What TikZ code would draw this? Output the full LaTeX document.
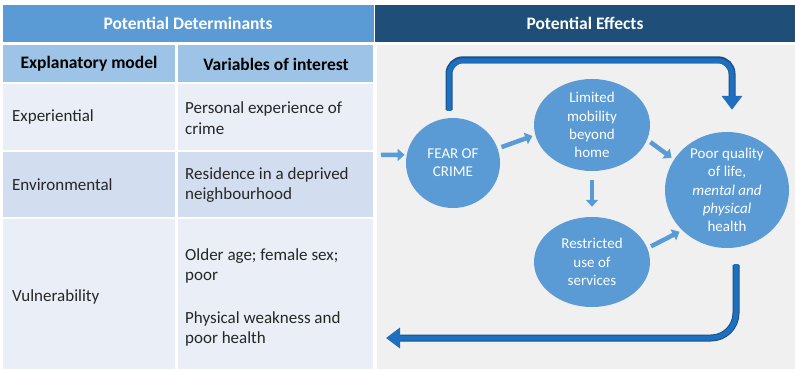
\documentclass[tikz,border=0pt]{standalone}
\usepackage{fontspec}
\setmainfont{Carlito}
\usepackage{tikz}
\usetikzlibrary{arrows.meta,shapes.geometric}
\definecolor{headblue}{HTML}{5B9BD5}
\definecolor{headdark}{HTML}{1F4E79}
\definecolor{subblue}{HTML}{9DC3E6}
\definecolor{rowlight}{HTML}{EAEFF7}
\definecolor{rowmid}{HTML}{D2DEEF}
\definecolor{panelgrey}{HTML}{F0F0F0}
\definecolor{bubbleblue}{HTML}{5B9BD5}
\definecolor{feedbackblue}{HTML}{1F6FBF}
\definecolor{feedbackedge}{HTML}{1A4F8A}
\newcommand{\cellfont}{\fontsize{17}{20.5}\selectfont}
\newcommand{\headfont}{\fontsize{17.5}{20.5}\selectfont\bfseries}
\newcommand{\bubblefont}{\fontsize{15}{18.3}\selectfont}

\begin{document}
\begin{tikzpicture}[x=1pt,y=-1pt]
        \tikzstyle{every node} = [inner sep=0pt]
        \tikzstyle{headtext} = [text=white, font=\headfont]
        \tikzstyle{subtext} = [font=\headfont]
        \tikzstyle{celltext} = [anchor=west, align=left, font=\cellfont, text=black!85]
        \tikzstyle{bubble} = [ellipse, fill=bubbleblue, text=white, align=center, font=\bubblefont, inner sep=-12pt]
        \tikzstyle{flow} = [draw=bubbleblue, line width=4.5pt, -{Triangle[width=12pt,length=7pt]}]
        \tikzstyle{feedback} = [draw=feedbackblue, line width=5pt, -{Triangle[width=20pt,length=14pt]}]
        \useasboundingbox (0,0) rectangle (795,371);
        \fill[white] (0,0) rectangle (795,371);

        % header bar
        \fill[headblue] (3,5) rectangle (374,42);
        \fill[headdark] (375,5) rectangle (795,42);
        \node[headtext] (det) at (188,23) {Potential Determinants};
        \node[headtext] (eff) at (585,23) {Potential Effects};

        % table rows, two columns each
        \foreach \top/\bot/\col in {45/82/subblue, 84/150/rowlight, 152/217/rowmid, 219/369/rowlight} {
            \fill[\col] (3,\top) rectangle (175,\bot);
            \fill[\col] (178,\top) rectangle (373,\bot);
        }
        \node[subtext] (model) at (89,64) {Explanatory model};
        \node[subtext] (vars) at (276,64) {Variables of interest};
        \node[celltext] (exp) at (12,117) {Experiential};
        \node[celltext] (expvar) at (185,118) {Personal experience of\\crime};
        \node[celltext] (env) at (12,185) {Environmental};
        \node[celltext] (envvar) at (185,185) {Residence in a deprived\\neighbourhood};
        \node[celltext] (vul) at (12,297) {Vulnerability};
        \node[celltext] (vulage) at (185,266) {Older age; female sex;\\poor};
        \node[celltext] (vulhealth) at (185,329) {Physical weakness and\\poor health};

        % effects panel
        \fill[panelgrey] (377,45) rectangle (795,369);
        \node[bubble, minimum width=94pt, minimum height=90pt] (fear) at (453,163) {FEAR OF\\CRIME};
        \node[bubble, minimum width=116pt, minimum height=92pt] (limited) at (592,125) {Limited\\mobility\\beyond\\home};
        \node[bubble, minimum width=116pt, minimum height=90pt] (restricted) at (592,262) {Restricted\\use of\\services};
        \node[bubble, minimum width=124pt, minimum height=116pt] (poor) at (727,190) {Poor quality\\of life,\\\textit{mental and}\\\textit{physical}\\health};
        \coordinate (input) at (381,155);
        \coordinate (back) at (386,338);

        \draw[flow, shorten >=2pt] (input) -- (fear.170);
        \foreach \from/\to in {fear.18/limited.190, limited.-15/poor.150, restricted.14/poor.222}
            \draw[flow, shorten <=4pt, shorten >=3pt] (\from) -- (\to);
        \draw[flow, shorten <=9pt, shorten >=10pt] (limited.south) -- (restricted.north);

        % the two long arrows, darker rim underneath
        \draw[feedback, draw=feedbackedge, line width=7pt, rounded corners=14pt, -] ([shift={(-4pt,8pt)}]fear.north) -- ++(0,-50) -| ([shift={(5pt,36pt)}]poor.north);
        \draw[feedback, rounded corners=14pt] ([shift={(-4pt,7pt)}]fear.north) -- ++(0,-50) -| ([shift={(5pt,22pt)}]poor.north);
        \draw[feedback, draw=feedbackedge, line width=7pt, rounded corners=25pt, -] ([shift={(9pt,-17pt)}]poor.south) |- ([xshift=14pt]back);
        \draw[feedback, rounded corners=25pt] ([shift={(9pt,-16pt)}]poor.south) |- (back);
\end{tikzpicture}
\end{document}
